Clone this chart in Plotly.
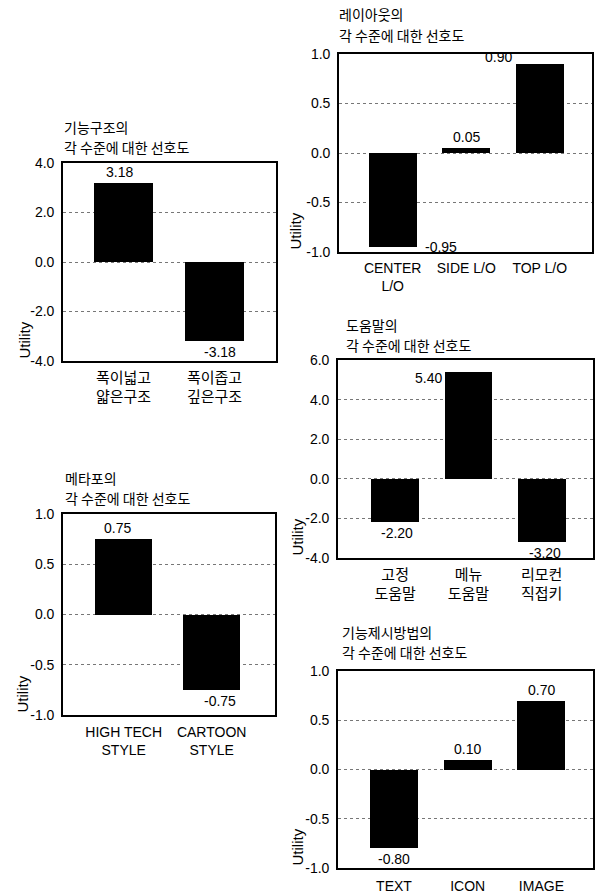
import plotly.graph_objects as go

W, H = 595, 893

# ---------------- data ----------------
t1 = ["기능구조의", "각 수준에 대한 선호도"]
c1 = ["폭이넓고<br>얇은구조", "폭이좁고<br>깊은구조"]
v1 = [3.18, -3.18]
y1_ticks = [-4, -2, 0, 2, 4]

t2 = ["메타포의", "각 수준에 대한 선호도"]
c2 = ["HIGH TECH<br>STYLE", "CARTOON<br>STYLE"]
v2 = [0.75, -0.75]
y2_ticks = [-1.0, -0.5, 0.0, 0.5, 1.0]

t3 = ["레이아웃의", "각 수준에 대한 선호도"]
c3 = ["CENTER<br>L/O", "SIDE L/O", "TOP L/O"]
v3 = [-0.95, 0.05, 0.90]
y3_ticks = [-1.0, -0.5, 0.0, 0.5, 1.0]

t4 = ["도움말의", "각 수준에 대한 선호도"]
c4 = ["고정<br>도움말", "메뉴<br>도움말", "리모컨<br>직접키"]
v4 = [-2.20, 5.40, -3.20]
y4_ticks = [-4, -2, 0, 2, 4, 6]

t5 = ["기능제시방법의", "각 수준에 대한 선호도"]
c5 = ["TEXT", "ICON", "IMAGE"]
v5 = [-0.80, 0.10, 0.70]
y5_ticks = [-1.0, -0.5, 0.0, 0.5, 1.0]

y_title = "Utility"

# ---------------- layout / style ----------------
FONT = "Liberation Sans, Arial, Noto Sans CJK KR, sans-serif"
KFONT = "Noto Sans CJK KR, sans-serif"
BW = 0.65

panels = [
    dict(t=t1, c=c1, v=v1, ticks=y1_ticks, xd=(63, 276), yd=(163, 361),
         xr=(-0.665, 1.676), title_x=62, title_y=(127, 147), ytitle_x=24,
         xfs=15, xtl=2,
         lab=[("c", -4, 1), ("c", 6, -1)]),
    dict(t=t2, c=c2, v=v2, ticks=y2_ticks, xd=(63, 275), yd=(514, 715),
         xr=(-0.69, 1.72), title_x=63, title_y=(478, 498), ytitle_x=22,
         xfs=14, xtl=3,
         lab=[("c", -6, 1), ("c", 8, -1)]),
    dict(t=t3, c=c3, v=v3, ticks=y3_ticks, xd=(339, 592), yd=(54, 252),
         xr=(-0.73, 2.71), title_x=337, title_y=(14.5, 34.5), ytitle_x=295,
         xfs=14, xtl=2,
         lab=[("r", 6, 0), ("c", 0, 1), ("l", -2, 7)]),
    dict(t=t4, c=c4, v=v4, ticks=y4_ticks, xd=(338, 593), yd=(360, 558),
         xr=(-0.78, 2.70), title_x=344, title_y=(325, 345), ytitle_x=297,
         xfs=15, xtl=2,
         lab=[("c", 2, -1), ("l", -1, -6), ("c", 3, -1)]),
    dict(t=t5, c=c5, v=v5, ticks=y5_ticks, xd=(338, 593), yd=(671, 868),
         xr=(-0.76, 2.70), title_x=340, title_y=(632, 652), ytitle_x=297,
         xfs=14, xtl=4,
         lab=[("c", 0, -1), ("c", 0, 1), ("c", 0, 1)]),
]


def fx(px):
    return px / W


def fy(py):
    return 1 - py / H


fig = go.Figure()
annotations = []
layout = {}

for k, p in enumerate(panels, start=1):
    xa = "x" if k == 1 else f"x{k}"
    ya = "y" if k == 1 else f"y{k}"
    xkey = "xaxis" if k == 1 else f"xaxis{k}"
    ykey = "yaxis" if k == 1 else f"yaxis{k}"
    idx = list(range(len(p["c"])))
    fig.add_trace(go.Bar(
        x=idx, y=p["v"], width=BW, xaxis=xa, yaxis=ya,
        marker=dict(color="black", line=dict(width=0)),
        showlegend=False, hoverinfo="skip",
    ))
    tk = p["ticks"]
    layout[xkey] = dict(
        domain=[fx(p["xd"][0]), fx(p["xd"][1])], anchor=ya,
        range=list(p["xr"]), tickvals=idx, ticktext=p["c"],
        showgrid=False, zeroline=False, showline=True, mirror=True,
        linecolor="black", linewidth=1.6, automargin=False,
        ticks="outside", ticklen=p["xtl"], tickcolor="rgba(0,0,0,0)",
        tickfont=dict(family=FONT, size=p["xfs"], color="black"),
        fixedrange=True,
    )
    layout[ykey] = dict(
        domain=[fy(p["yd"][1]), fy(p["yd"][0])], anchor=xa,
        range=[tk[0], tk[-1]], tickvals=tk,
        ticktext=[f"{t:.1f}" for t in tk],
        showgrid=True, gridcolor="#777", griddash="dot", gridwidth=1,
        zeroline=False, showline=True, mirror=True,
        linecolor="black", linewidth=1.6, automargin=False,
        ticks="outside", ticklen=4, tickcolor="rgba(0,0,0,0)",
        tickfont=dict(family=FONT, size=14, color="black"),
        fixedrange=True,
    )
    # panel title (two lines)
    for line, ty in zip(p["t"], p["title_y"]):
        annotations.append(dict(
            text=line, xref="paper", yref="paper",
            x=fx(p["title_x"]), y=fy(ty),
            xanchor="left", yanchor="middle", showarrow=False,
            font=dict(family=KFONT, size=14, color="black"),
        ))
    # y axis title
    annotations.append(dict(
        text=y_title, xref="paper", yref="paper",
        x=fx(p["ytitle_x"]), y=fy(p["yd"][1]),
        xanchor="center", yanchor="bottom", showarrow=False, textangle=-90,
        font=dict(family=FONT, size=15, color="black"),
    ))
    # value labels
    for i, val in enumerate(p["v"]):
        mode, xs, ys = p["lab"][i]
        a = dict(text=f"{val:.2f}", xref=xa, yref=ya, y=val, showarrow=False,
                 xshift=xs, yshift=ys,
                 font=dict(family=FONT, size=14, color="black"))
        if mode == "c":
            a.update(x=i, xanchor="center",
                     yanchor="bottom" if val > 0 else "top")
        elif mode == "l":
            a.update(x=i - BW / 2, xanchor="right", yanchor="middle")
        else:
            a.update(x=i + BW / 2, xanchor="left", yanchor="middle")
        annotations.append(a)

fig.update_layout(
    width=W, height=H,
    margin=dict(l=0, r=0, t=0, b=0),
    paper_bgcolor="white", plot_bgcolor="white",
    bargap=0, annotations=annotations,
    **layout,
)

fig.write_html(
    "out.html",
    config={"displayModeBar": False},
    post_script=["document.body.style.margin='0';document.body.style.overflow='hidden';"],
)
